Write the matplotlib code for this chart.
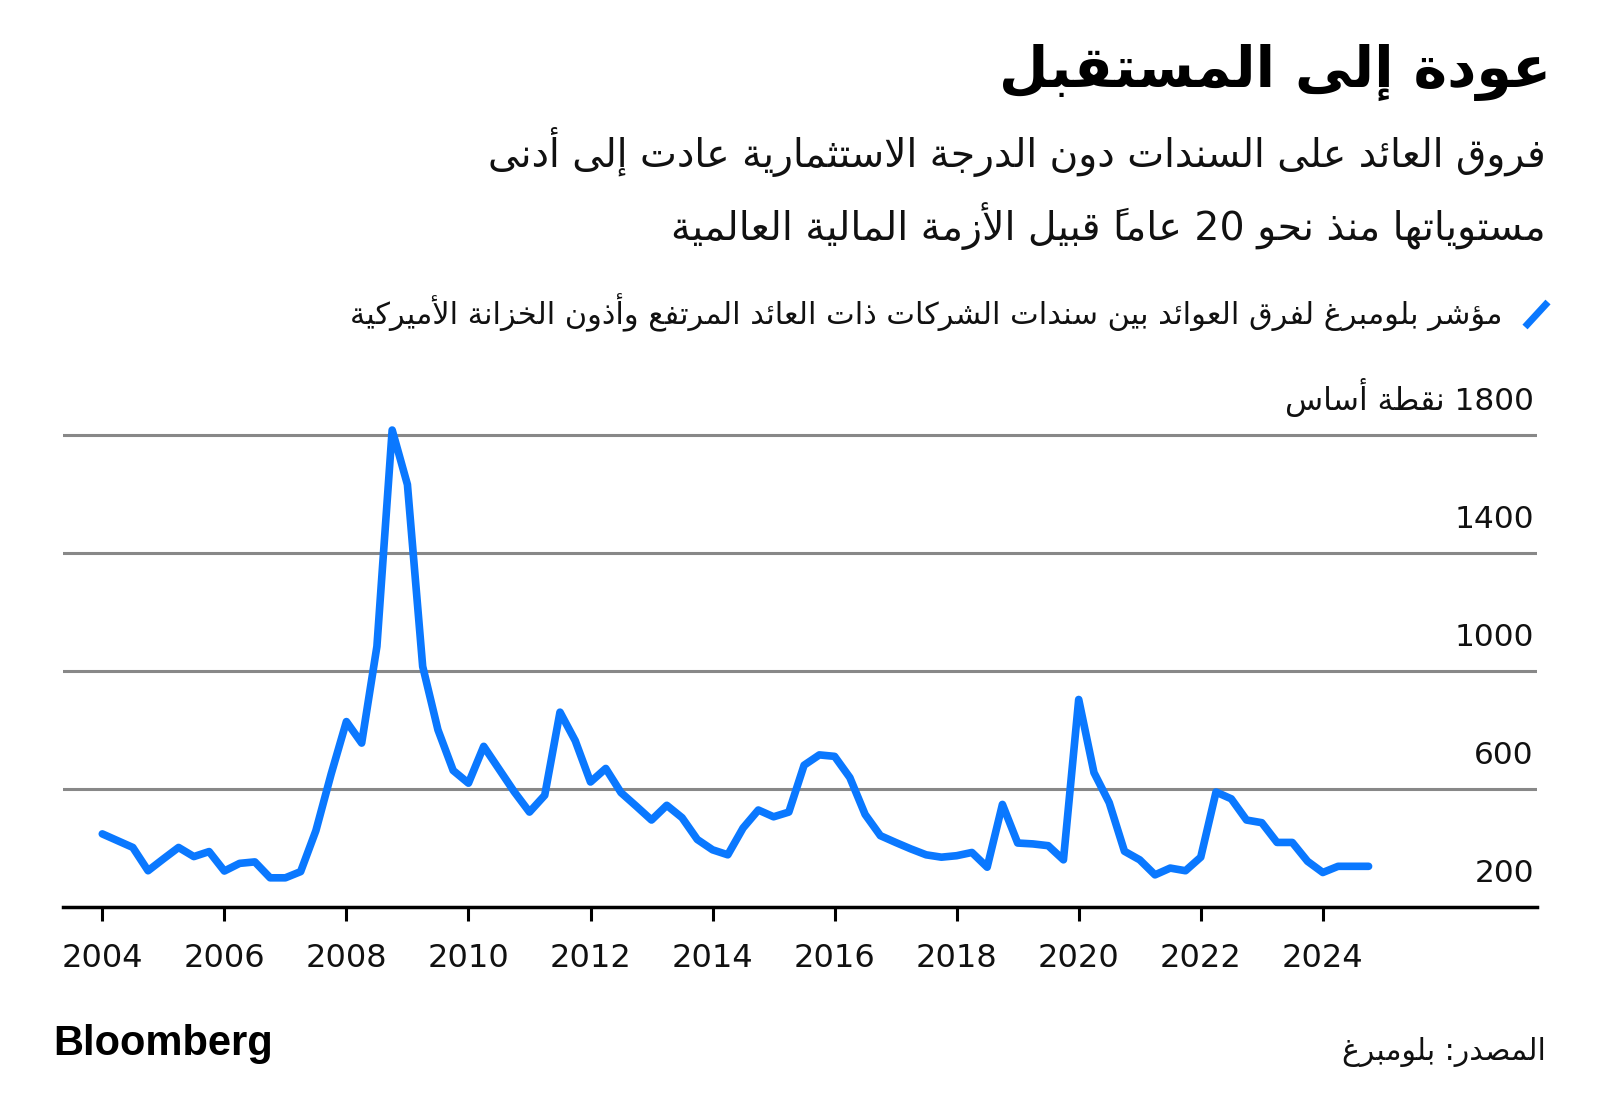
import matplotlib
matplotlib.use("Agg")
import matplotlib.pyplot as plt
import matplotlib.transforms as mtransforms
from matplotlib.lines import Line2D
import pandas as pd

# ---------------- data ----------------
spread = [447, 424, 401, 322, 362, 401, 370, 387, 321, 347, 352, 298,
          298, 319, 458, 650, 828, 755, 1083, 1817, 1632, 1015, 800, 662,
          619, 744, 667, 590, 521, 578, 860, 763, 623, 669, 587, 541,
          494, 544, 502, 428, 393, 376, 467, 528, 505, 521, 680, 715,
          710, 638, 513, 441, 418, 396, 376, 368, 373, 384, 334, 547,
          416, 413, 407, 359, 903, 655, 553, 388, 359, 308, 331, 322,
          368, 589, 566, 494, 485, 418, 418, 354, 316, 337, 337, 337]
dates = pd.date_range("2004-01-01", periods=len(spread), freq="QS")
xticks = [2004, 2006, 2008, 2010, 2012, 2014, 2016, 2018, 2020, 2022, 2024]
xtick_labels = [str(t) for t in xticks]
yticks = [200, 600, 1000, 1400, 1800]
ytick_labels = ["200", "600", "1000", "1400", "1800 نقطة أساس"]

title = "عودة إلى المستقبل"
subtitle_1 = "فروق العائد على السندات دون الدرجة الاستثمارية عادت إلى أدنى"
subtitle_2 = "مستوياتها منذ نحو 20 عاماً قبيل الأزمة المالية العالمية"
legend_label = "مؤشر بلومبرغ لفرق العوائد بين سندات الشركات ذات العائد المرتفع وأذون الخزانة الأميركية"
source = "المصدر: بلومبرغ"
brand = "Bloomberg"

BLUE = "#0a78ff"
GRID = "#888888"

# ---------------- minimal Arabic shaping + bidi ----------------
_FORMS = {}
for base, code in [(0xFE8F, 0x0628), (0xFE95, 0x062A), (0xFE99, 0x062B), (0xFE9D, 0x062C),
                   (0xFEA1, 0x062D), (0xFEA5, 0x062E), (0xFEB1, 0x0633), (0xFEB5, 0x0634),
                   (0xFEB9, 0x0635), (0xFEBD, 0x0636), (0xFEC1, 0x0637), (0xFEC5, 0x0638),
                   (0xFEC9, 0x0639), (0xFECD, 0x063A), (0xFED1, 0x0641), (0xFED5, 0x0642),
                   (0xFED9, 0x0643), (0xFEDD, 0x0644), (0xFEE1, 0x0645), (0xFEE5, 0x0646),
                   (0xFEE9, 0x0647), (0xFEF1, 0x064A), (0xFE89, 0x0626)]:
    _FORMS[code] = (base, base + 1, base + 2, base + 3)
for base, code in [(0xFE81, 0x0622), (0xFE83, 0x0623), (0xFE85, 0x0624), (0xFE87, 0x0625),
                   (0xFE8D, 0x0627), (0xFE93, 0x0629), (0xFEA9, 0x062F), (0xFEAB, 0x0630),
                   (0xFEAD, 0x0631), (0xFEAF, 0x0632), (0xFEED, 0x0648), (0xFEEF, 0x0649)]:
    _FORMS[code] = (base, base + 1)
_FORMS[0x0621] = (0xFE80,)
_LAMALEF = {0x0622: 0xFEF5, 0x0623: 0xFEF7, 0x0625: 0xFEF9, 0x0627: 0xFEFB}


def _mark(c):
    return 0x064B <= ord(c) <= 0x0652


def ar(text):
    ch = list(text)
    n = len(ch)

    def prev_joins(i):
        j = i - 1
        while j >= 0 and _mark(ch[j]):
            j -= 1
        return j >= 0 and ord(ch[j]) in _FORMS and len(_FORMS[ord(ch[j])]) == 4

    def next_joinable(i):
        j = i + 1
        while j < n and _mark(ch[j]):
            j += 1
        return j < n and ord(ch[j]) in _FORMS and len(_FORMS[ord(ch[j])]) > 1

    clusters = []  # (base, marks)
    i = 0
    while i < n:
        c = ch[i]
        o = ord(c)
        if _mark(c) and clusters:
            clusters[-1][1].append(c)
            i += 1
            continue
        if o == 0x0644 and i + 1 < n and ord(ch[i + 1]) in _LAMALEF:
            lig = _LAMALEF[ord(ch[i + 1])]
            clusters.append([chr(lig + 1 if prev_joins(i) else lig), []])
            i += 2
            continue
        if o in _FORMS:
            f = _FORMS[o]
            p = prev_joins(i) and len(f) > 1
            nx = len(f) == 4 and next_joinable(i)
            if len(f) == 4:
                g = f[3] if (p and nx) else f[1] if p else f[2] if nx else f[0]
            elif len(f) == 2:
                g = f[1] if p else f[0]
            else:
                g = f[0]
            clusters.append([chr(g), []])
        else:
            clusters.append([c, []])
        i += 1
    vis = clusters[::-1]
    out = []
    k = 0
    while k < len(vis):
        if vis[k][0].isdigit():
            m = k
            while m < len(vis) and vis[m][0].isdigit():
                m += 1
            out.extend(cl[0] for cl in vis[k:m][::-1])
            k = m
        else:
            out.append("".join(vis[k][1]) + vis[k][0])
            k += 1
    return "".join(out)


plt.rcParams["font.family"] = ["DejaVu Sans"]

W, H = 1600, 1120
fig = plt.figure(figsize=(W / 100, H / 100), dpi=100)
fig.patch.set_facecolor("white")

ax_left, ax_right, ax_bottom_px, ax_top_px = 63, 1537, 906.7, 376.1
ax = fig.add_axes([ax_left / W, (H - ax_bottom_px) / H,
                   (ax_right - ax_left) / W, (ax_bottom_px - ax_top_px) / H])
ax.set_xlim(2003.356, 2027.51)
ax.set_ylim(200, 2000)

x = dates.year + (dates.month - 1) / 12.0
for v in yticks[1:]:
    ax.axhline(v, color=GRID, lw=2.2, zorder=1)
ax.plot(x, spread, color=BLUE, lw=5.5, solid_joinstyle="round",
        solid_capstyle="round", zorder=3)

for s in ["top", "right", "left"]:
    ax.spines[s].set_visible(False)
ax.spines["bottom"].set_color("black")
ax.spines["bottom"].set_linewidth(2.5)
ax.set_yticks([])
ax.set_xticks(xticks)
ax.set_xticklabels(xtick_labels)
ax.tick_params(axis="x", direction="out", length=10, width=2.2, color="black",
               labelsize=23, pad=16, labelcolor="#111111")

ylab_tr = mtransforms.offset_copy(ax.get_yaxis_transform(), fig=fig, x=-3, y=25, units="dots")
for v, lab in zip(yticks, ytick_labels):
    ax.text(1.0, v, ar(lab), transform=ylab_tr, ha="right", va="baseline",
            fontsize=22.5, color="#111111")

# ---------------- texts ----------------
RX = 1546 / W
fig.text(1551 / W, 1 - 72 / H, ar(title), ha="right", va="center", fontsize=41,
         fontweight="bold", color="black")
fig.text(RX, 1 - 152 / H, ar(subtitle_1), ha="right", va="center", fontsize=28.2,
         color="#111111")
fig.text(RX, 1 - 226 / H, ar(subtitle_2), ha="right", va="center", fontsize=28.4,
         color="#111111")
fig.text(1502 / W, 1 - 313 / H, ar(legend_label), ha="right", va="center",
         fontsize=21.9, color="#111111")
fig.add_artist(Line2D([1525 / W, 1548 / W], [1 - 327 / H, 1 - 302 / H],
                      transform=fig.transFigure, color=BLUE, lw=5,
                      solid_capstyle="butt"))
fig.text(RX, 1 - 1052 / H, ar(source), ha="right", va="center", fontsize=21.5,
         color="#111111")
fig.text(53 / W, 1 - 1044 / H, brand, ha="left", va="center", fontsize=30,
         fontweight="bold", family=["Liberation Sans", "DejaVu Sans"], color="black")

fig.savefig("out.png", dpi=100, facecolor="white")
